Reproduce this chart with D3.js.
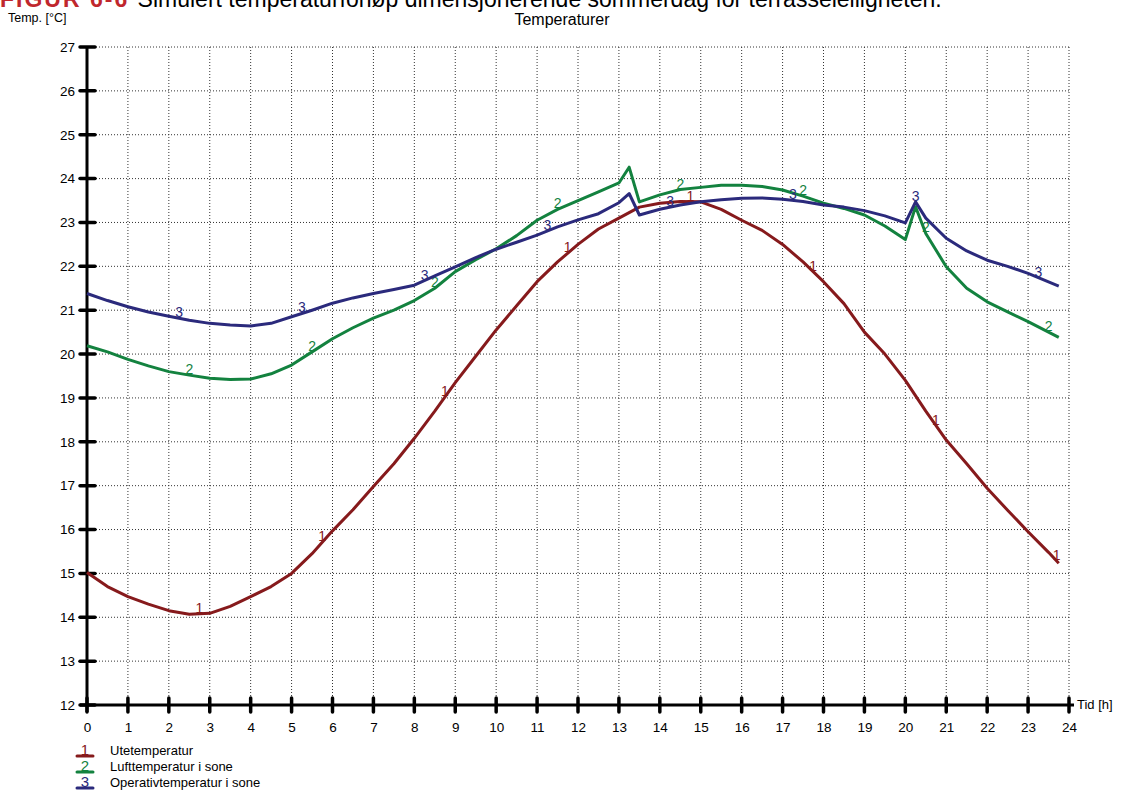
<!DOCTYPE html>
<html><head><meta charset="utf-8">
<script src="https://cdn.jsdelivr.net/npm/d3@7"></script>
<style>body{margin:0;background:#fff}svg{display:block;font-family:"Liberation Sans",Arial,sans-serif}</style>
</head><body><svg id="c" width="1124" height="805"></svg>
<script>
const xTicks = d3.range(0, 25);
const yTicks = d3.range(12, 28);
const seriesNames = ["Utetemperatur", "Lufttemperatur i sone", "Operativtemperatur i sone"];
const seriesColors = ["#861a1c", "#13823f", "#2b2a7c"];
const hours1 = [0,0.5,1,1.5,2,2.5,3,3.5,4,4.5,5,5.5,6,6.5,7,7.5,8,8.5,9,9.5,10,10.5,11,11.5,12,12.5,13,13.5,14,14.5,15,15.5,16,16.5,17,17.5,18,18.5,19,19.5,20,20.5,21,21.5,22,22.5,23,23.5,23.75];
const ute = [15.02,14.7,14.47,14.3,14.15,14.07,14.09,14.25,14.47,14.7,15.0,15.45,15.97,16.45,16.98,17.5,18.08,18.7,19.35,19.95,20.55,21.1,21.65,22.1,22.5,22.85,23.1,23.35,23.44,23.48,23.47,23.3,23.05,22.82,22.5,22.1,21.65,21.15,20.5,20.0,19.4,18.7,18.04,17.5,16.94,16.44,15.95,15.48,15.23];
const hours23 = [0,0.5,1,1.5,2,2.5,3,3.5,4,4.5,5,5.5,6,6.5,7,7.5,8,8.5,9,9.5,10,10.5,11,11.5,12,12.5,13,13.25,13.5,14,14.5,15,15.5,16,16.5,17,17.5,18,18.5,19,19.5,20,20.25,20.5,21,21.5,22,22.5,23,23.75];
const luft = [20.19,20.05,19.88,19.73,19.6,19.52,19.45,19.42,19.43,19.55,19.75,20.05,20.35,20.6,20.82,21.0,21.22,21.5,21.88,22.15,22.4,22.7,23.05,23.3,23.5,23.7,23.9,24.26,23.47,23.63,23.75,23.8,23.85,23.85,23.82,23.74,23.6,23.44,23.32,23.17,22.92,22.61,23.36,22.75,21.99,21.5,21.19,20.96,20.74,20.38];
const oper = [21.38,21.22,21.08,20.96,20.86,20.77,20.7,20.66,20.64,20.7,20.85,21.0,21.16,21.28,21.38,21.47,21.57,21.78,21.99,22.2,22.39,22.55,22.71,22.9,23.06,23.2,23.45,23.66,23.17,23.3,23.4,23.47,23.52,23.55,23.56,23.53,23.48,23.4,23.35,23.27,23.15,22.99,23.47,23.1,22.64,22.35,22.14,22.0,21.84,21.55];
const labelHours = [[2.75,5.75,8.75,11.75,14.75,17.75,20.75,23.7],[2.5,5.5,8.5,11.5,14.5,17.5,20.5,23.5],[2.25,5.25,8.25,11.25,14.25,17.25,20.25,23.25]];

const svg = d3.select("#c");
const x = d3.scaleLinear().domain([0, 24]).range([87, 1069]);
const y = d3.scaleLinear().domain([12, 27]).range([705, 47]);

// header (caption cut off at the top, as in the source)
const cap = svg.append("text").attr("x", 0).attr("y", 7).attr("font-size", 23);
cap.append("tspan").attr("fill", "#c0272d").attr("font-weight", "bold").attr("letter-spacing", 2).text("FIGUR 6-6 ");
cap.append("tspan").attr("fill", "#000").attr("letter-spacing", 0).text("Simulert temperaturforløp dimensjonerende sommerdag for terrasseleiligheten.");

svg.append("text").attr("x", 8).attr("y", 22).attr("font-size", 12.5).text("Temp. [°C]");
svg.append("text").attr("x", 562).attr("y", 25).attr("font-size", 16).attr("text-anchor", "middle").text("Temperaturer");

// grid
const g = svg.append("g");
g.selectAll(".vg").data(xTicks.filter(d => d > 0)).enter().append("line")
  .attr("x1", d => x(d)).attr("x2", d => x(d)).attr("y1", y(27)).attr("y2", y(12))
  .attr("stroke", "#333").attr("stroke-width", 1).attr("stroke-dasharray", "1,2");
g.selectAll(".hg").data(yTicks.filter(d => d > 12)).enter().append("line")
  .attr("x1", x(0)).attr("x2", x(24)).attr("y1", d => y(d)).attr("y2", d => y(d))
  .attr("stroke", "#333").attr("stroke-width", 1).attr("stroke-dasharray", "1,2");

// axes
const yAxis = d3.axisLeft(y).tickValues(yTicks).tickSize(0).tickPadding(12).tickFormat(d3.format("d"));
const ya = svg.append("g").attr("transform", `translate(${x(0)},0)`).call(yAxis);
ya.select(".domain").remove();
ya.selectAll("text").attr("font-size", 13.5).attr("fill", "#000").attr("font-family", "Liberation Sans, Arial");
const xAxis = d3.axisBottom(x).tickValues(xTicks).tickSize(0).tickPadding(17).tickFormat(d3.format("d"));
const xa = svg.append("g").attr("transform", `translate(0,${y(12)})`).call(xAxis);
xa.select(".domain").remove();
xa.selectAll("text").attr("font-size", 13.5).attr("fill", "#000").attr("font-family", "Liberation Sans, Arial");

svg.append("line").attr("x1", x(0)).attr("x2", x(0)).attr("y1", y(27)).attr("y2", y(12) + 7).attr("stroke", "#000").attr("stroke-width", 3);
svg.append("line").attr("x1", x(0) - 7).attr("x2", x(24) + 5).attr("y1", y(12)).attr("y2", y(12)).attr("stroke", "#000").attr("stroke-width", 3);
svg.selectAll(".yt").data(yTicks).enter().append("line")
  .attr("x1", x(0) - 7).attr("x2", x(0) + 8).attr("y1", d => y(d)).attr("y2", d => y(d))
  .attr("stroke", "#000").attr("stroke-width", 3.5).attr("stroke-linecap", "round");
svg.selectAll(".xt").data(xTicks).enter().append("line")
  .attr("x1", d => x(d)).attr("x2", d => x(d)).attr("y1", y(12) - 7).attr("y2", y(12) + 7)
  .attr("stroke", "#000").attr("stroke-width", 3.5).attr("stroke-linecap", "round");
svg.append("text").attr("x", 1077).attr("y", 709).attr("font-size", 13).text("Tid [h]");

// series
const series = [
  {h: hours1, v: ute},
  {h: hours23, v: luft},
  {h: hours23, v: oper}
];
const line = d3.line().x(d => x(d[0])).y(d => y(d[1]));
series.forEach((s, i) => {
  const pts = s.h.map((h, k) => [h, s.v[k]]);
  svg.append("path").attr("d", line(pts)).attr("fill", "none")
    .attr("stroke", seriesColors[i]).attr("stroke-width", 3).attr("stroke-linejoin", "round");
  const interp = h => {
    const j = d3.bisectLeft(s.h, h);
    if (j <= 0) return s.v[0];
    if (j >= s.h.length) return s.v[s.v.length - 1];
    const t = (h - s.h[j - 1]) / (s.h[j] - s.h[j - 1]);
    return s.v[j - 1] + t * (s.v[j] - s.v[j - 1]);
  };
  labelHours[i].forEach(h => {
    svg.append("text").attr("x", x(h)).attr("y", y(interp(h)) - 1)
      .attr("text-anchor", "middle").attr("font-size", 14).attr("fill", seriesColors[i]).text(i + 1);
  });
});

// legend
seriesNames.forEach((n, i) => {
  const yy = 750 + i * 16;
  svg.append("text").attr("x", 85).attr("y", yy + 5).attr("text-anchor", "middle")
    .attr("font-size", 15).attr("fill", seriesColors[i]).text(i + 1);
  svg.append("line").attr("x1", 77).attr("x2", 93).attr("y1", yy + 6).attr("y2", yy + 6)
    .attr("stroke", seriesColors[i]).attr("stroke-width", 3).attr("stroke-linecap", "round");
  svg.append("text").attr("x", 110).attr("y", yy + 5).attr("font-size", 13).attr("fill", "#000").text(n);
});
</script></body></html>
